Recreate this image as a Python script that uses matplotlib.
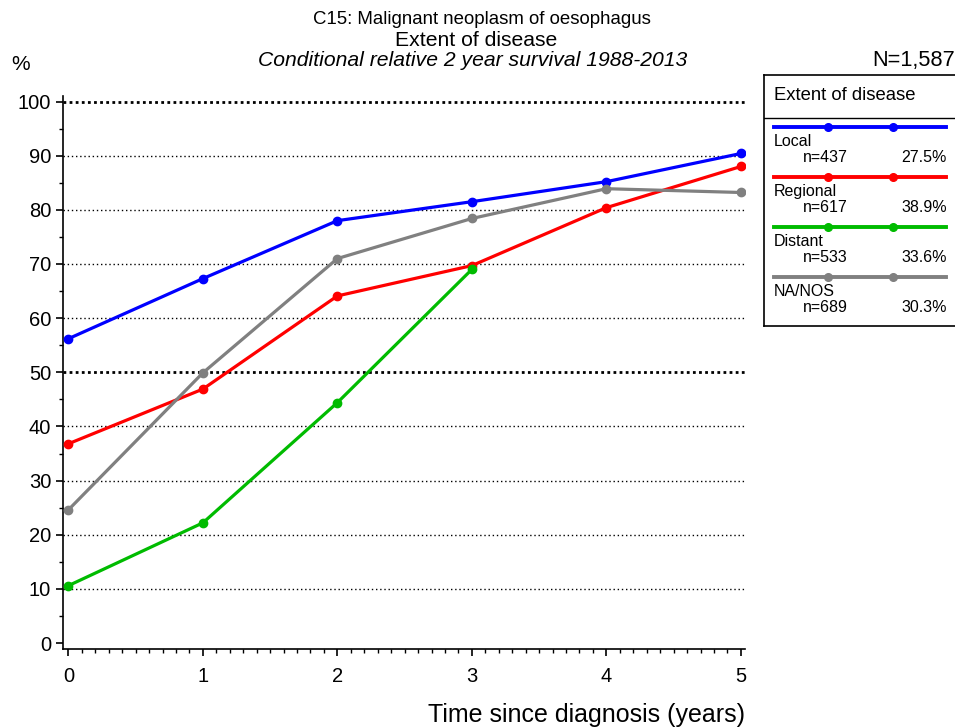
import matplotlib
matplotlib.use('Agg')
import matplotlib.pyplot as plt
from matplotlib.ticker import MultipleLocator
from matplotlib.lines import Line2D

years = [0, 1, 2, 3, 4, 5]
groups = ['Local', 'Regional', 'Distant', 'NA/NOS']
counts = ['n=437', 'n=617', 'n=533', 'n=689']
shares = ['27.5%', '38.9%', '33.6%', '30.3%']
colors = ['#0000ff', '#ff0000', '#00bb00', '#808080']
survival = {
    'Local': [56.2, 67.3, 78.0, 81.5, 85.2, 90.4],
    'Regional': [36.8, 46.9, 64.1, 69.7, 80.4, 88.0],
    'Distant': [10.6, 22.2, 44.4, 69.0, None, None],
    'NA/NOS': [24.6, 49.9, 71.0, 78.4, 83.9, 83.2],
}
gridLevels = [10, 20, 30, 40, 50, 60, 70, 80, 90, 100]
boldLevels = [50, 100]

plt.rcParams['font.family'] = ['Liberation Sans', 'DejaVu Sans']

fig = plt.figure(figsize=(9.55, 7.28), dpi=100)
ax = fig.add_axes([0.066, 0.1085, 0.714, 0.7595])

for level in gridLevels:
    if level in boldLevels:
        ax.axhline(level, color='black', linestyle=(0, (1, 1.2)),
                   linewidth=2.0, zorder=1)
    else:
        ax.axhline(level, color='black', linestyle=(0, (1, 2)),
                   linewidth=1.0, zorder=1)

for name, color in zip(groups, colors):
    pts = [(x, y) for x, y in zip(years, survival[name]) if y is not None]
    xs = [p[0] for p in pts]
    ys = [p[1] for p in pts]
    ax.plot(xs, ys, color=color, linewidth=2.3, marker='o', markersize=6,
            zorder=3)

ax.set_xlim(-0.04, 5.03)
ax.set_ylim(-1.1, 101)
ax.set_xticks(years)
ax.set_yticks(range(0, 101, 10))
ax.xaxis.set_minor_locator(MultipleLocator(0.1))
ax.yaxis.set_minor_locator(MultipleLocator(5))
ax.tick_params(axis='both', which='major', length=5, width=1.2,
               labelsize=14.5, direction='out')
ax.tick_params(axis='both', which='minor', length=3, width=1.0,
               direction='out')
ax.tick_params(axis='x', pad=8)
ax.spines['top'].set_visible(False)
ax.spines['right'].set_visible(False)
ax.spines['left'].set_linewidth(1.2)
ax.spines['bottom'].set_linewidth(1.2)
ax.set_xlabel('Time since diagnosis (years)', fontsize=18, ha='right',
              x=1.0, labelpad=12)

fig.text(0.505, 0.973, 'C15: Malignant neoplasm of oesophagus',
         fontsize=13.4, ha='center', va='center')
fig.text(0.499, 0.945, 'Extent of disease', fontsize=15.2,
         ha='center', va='center')
fig.text(0.495, 0.917, 'Conditional relative 2 year survival 1988-2013',
         fontsize=15.2, style='italic', ha='center', va='center')
fig.text(0.012, 0.912, '%', fontsize=15, ha='left', va='center')
fig.text(0.9995, 0.917, 'N=1,587', fontsize=15.7, ha='right', va='center')

# legend box drawn by hand
lax = fig.add_axes([0.800, 0.552, 0.205, 0.345])
lax.set_xlim(0, 195)
lax.set_ylim(251, 0)
lax.set_xticks([])
lax.set_yticks([])
for side in ['left', 'top', 'bottom']:
    lax.spines[side].set_linewidth(1.2)
lax.spines['right'].set_visible(False)
lax.text(10, 21, 'Extent of disease', fontsize=13.3, va='center')
lax.add_line(Line2D([0, 195], [43, 43], color='black', linewidth=1.0))
for i, (name, color) in enumerate(zip(groups, colors)):
    y0 = 52 + i * 50
    lax.add_line(Line2D([10, 181], [y0, y0], color=color, linewidth=2.8))
    lax.plot([64, 128], [y0, y0], 'o', color=color, markersize=5.5)
    lax.text(10, y0 + 14, name, fontsize=11.5, va='center')
    lax.text(39, y0 + 30, counts[i], fontsize=11.5, va='center')
    lax.text(182, y0 + 30, shares[i], fontsize=11.5, va='center', ha='right')

fig.savefig('out.png', dpi=100)
